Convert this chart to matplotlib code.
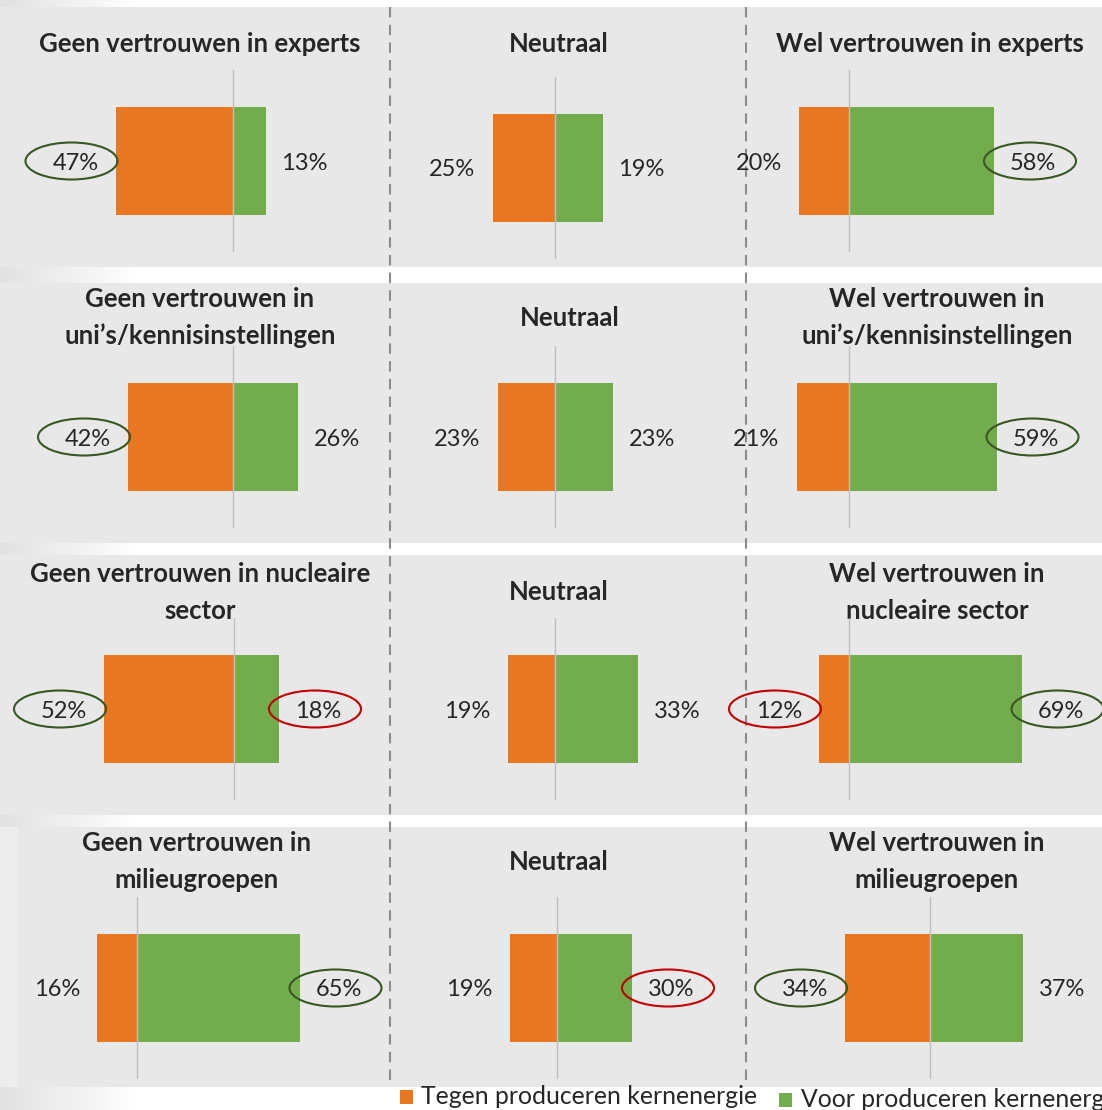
import numpy as np
import matplotlib
matplotlib.use("Agg")
from matplotlib import pyplot as plt
from matplotlib.patches import Rectangle, Ellipse
from matplotlib.transforms import ScaledTranslation

plt.rcParams['font.family'] = ['Lato', 'DejaVu Sans']

# panel titles, row by row (left: geen vertrouwen, middle: neutraal, right: wel vertrouwen)
titles = [
    "Geen vertrouwen in experts", "Neutraal", "Wel vertrouwen in experts",
    "Geen vertrouwen in\nuni’s/kennisinstellingen", "Neutraal", "Wel vertrouwen in\nuni’s/kennisinstellingen",
    "Geen vertrouwen in nucleaire\nsector", "Neutraal", "Wel vertrouwen in\nnucleaire sector",
    "Geen vertrouwen in\nmilieugroepen", "Neutraal", "Wel vertrouwen in\nmilieugroepen",
]
tegen = [47, 25, 20, 42, 23, 21, 52, 19, 12, 16, 19, 34]
voor = [13, 19, 58, 26, 23, 59, 18, 33, 69, 65, 30, 37]
# which labels are circled ("g" = dark green, "r" = red)
circle_tegen = ["g", None, None, "g", None, None, "g", None, "r", None, None, "g"]
circle_voor = [None, None, "g", None, None, "g", "r", None, "g", "g", "r", None]
legend_labels = ["Tegen produceren kernenergie", "Voor produceren kernenergie"]

ORANGE = "#E87722"
GREEN = "#72AC4D"
PANEL = "#E8E8E8"
TXT = "#262626"
ring = {"g": "#385723", "r": "#C00000"}

W, H = 1102, 1110
fig = plt.figure(figsize=(W / 100, H / 100), dpi=100)
fig.patch.set_facecolor("white")

# background / layout axes in pixel coordinates
bg = fig.add_axes([0, 0, 1, 1])
bg.axis("off")

def hgrad(x0, x1, y0, y1, c0, c1):
    a = np.array(matplotlib.colors.to_rgb(c0))
    b = np.array(matplotlib.colors.to_rgb(c1))
    t = np.linspace(0, 1, 64)[None, :, None]
    img = a + (b - a) * t
    bg.imshow(img, extent=(x0, x1, y1, y0), aspect="auto", interpolation="bilinear", zorder=0)

hgrad(0, 140, 0, H, "#e2e2e2", "#ffffff")

row_bounds = [(7, 267), (283, 543), (555, 815), (827, 1087)]
for i, (y0, y1) in enumerate(row_bounds):
    if i < 3:
        bg.add_patch(Rectangle((0, y0), W, y1 - y0, color=PANEL, zorder=1, lw=0))
        hgrad(0, 45, y0, y1, "#f2f2f2", PANEL)
    else:
        bg.add_patch(Rectangle((0, y0), 18, y1 - y0, color="#ededed", zorder=1, lw=0))
        bg.add_patch(Rectangle((18, y0), W - 18, y1 - y0, color=PANEL, zorder=1, lw=0))
        hgrad(18, 110, y0, y1, "#d5d5d5", PANEL)

for x in (390, 746):
    bg.plot([x, x], [7, 1087], color="#8c8c8c", lw=1.5, ls=(0, (5, 3.5)), zorder=3)

# titles (baselines of each line, px)
title_x = [200, 559, 930, 200, 570, 937, 200, 559, 937, 197, 559, 937]
title_base = [52, 52, 52, 307, 326, 307, 582, 600, 582, 851, 870, 851]
for t, x, yb in zip(titles, title_x, title_base):
    for k, line in enumerate(t.split("\n")):
        bg.text(x, yb + 37 * k, line, ha="center", va="baseline", fontsize=18.5,
                fontweight="bold", color=TXT, zorder=5)

# legend (the second entry runs off the right edge, as in the source)
bg.add_patch(Rectangle((400, 1090), 13, 14, color=ORANGE, lw=0, zorder=5))
bg.text(421, 1104, legend_labels[0], fontsize=17.8, color=TXT, va="baseline", zorder=5)
bg.add_patch(Rectangle((779, 1093), 13, 14, color=GREEN, lw=0, zorder=5))
bg.text(801, 1107, legend_labels[1], fontsize=17.8, color=TXT, va="baseline", zorder=5)

bg.set_xlim(0, W)
bg.set_ylim(H, 0)

# chart panels
cols_px = [(0, 390), (390, 745), (745, W)]
zero_px = [233, 555, 849, 233, 555, 849, 234, 555, 849, 137, 557, 930]
center_px = [161, 168, 161, 437, 437, 437, 709, 709, 709, 988, 988, 988]
PX_PER_PCT = 2.5
HALF = 91      # half height of axis line, px
BAR_H = 108    # bar thickness, px

for i in range(12):
    c = i % 3
    xl, xr = cols_px[c]
    zx, cy = zero_px[i], center_px[i]
    ax = fig.add_axes([xl / W, 1 - (cy + HALF) / H, (xr - xl) / W, 2 * HALF / H])
    ax.set_xlim((xl - zx) / PX_PER_PCT, (xr - zx) / PX_PER_PCT)
    ax.set_ylim(-HALF / BAR_H, HALF / BAR_H)
    ax.axis("off")
    ax.patch.set_alpha(0)

    ax.barh(0, -tegen[i], height=1, color=ORANGE, zorder=2)
    ax.barh(0, voor[i], height=1, color=GREEN, zorder=2)
    ax.axvline(0, color="#bfbfbf", lw=1, zorder=3)

    ax.annotate(f"{tegen[i]}%", xy=(-tegen[i], 0), xytext=(-12.2, 0), textcoords="offset points",
                ha="right", va="center_baseline", fontsize=17, color=TXT, zorder=4)
    ax.annotate(f"{voor[i]}%", xy=(voor[i], 0), xytext=(11.5, 0), textcoords="offset points",
                ha="left", va="center_baseline", fontsize=17, color=TXT, zorder=4)

    if circle_tegen[i]:
        tr = fig.dpi_scale_trans + ScaledTranslation(-tegen[i], 0, ax.transData)
        ax.add_patch(Ellipse((-0.44, 0), 0.92, 0.37, transform=tr, fill=False,
                             ec=ring[circle_tegen[i]], lw=1.5, clip_on=False, zorder=6))
    if circle_voor[i]:
        tr = fig.dpi_scale_trans + ScaledTranslation(voor[i], 0, ax.transData)
        ax.add_patch(Ellipse((0.36, 0), 0.92, 0.37, transform=tr, fill=False,
                             ec=ring[circle_voor[i]], lw=1.5, clip_on=False, zorder=6))

fig.savefig("out.png", dpi=100)
